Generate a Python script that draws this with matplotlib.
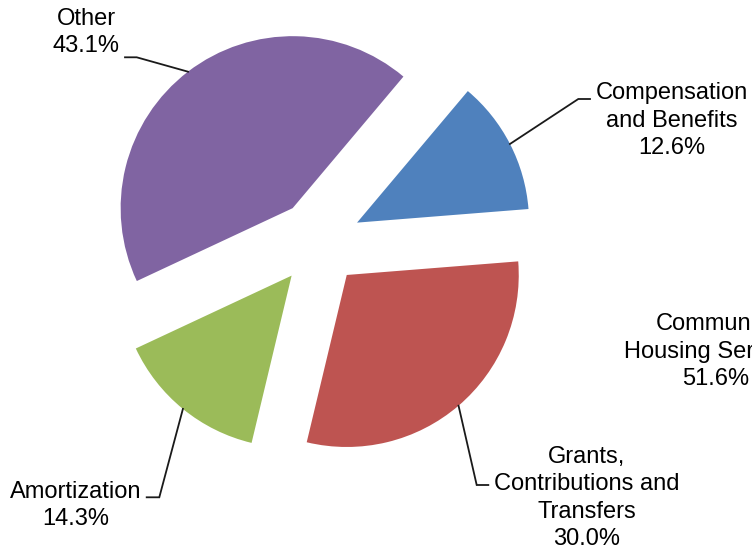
import numpy as np
import matplotlib
matplotlib.use('Agg')
import matplotlib.pyplot as plt

# Expense breakdown shown as an exploded pie
categories = ['Compensation\nand Benefits', 'Grants,\nContributions and\nTransfers', 'Amortization', 'Other']
shares = [12.6, 30.0, 14.3, 43.1]
colors = ['#4F81BD', '#BE5451', '#9BBB59', '#8064A2']

# label of the neighbouring chart that spills into this one
side_label = 'Community\nHousing Services'
side_share = 51.6

W, H = 752, 550
plt.rcParams['font.family'] = 'Liberation Sans'
fig = plt.figure(figsize=(W / 100, H / 100), dpi=100)
ax = fig.add_axes([0, 0, 1, 1])

center = (318.8, H - 242.3)
radius = 172
wedges, _ = ax.pie(shares, colors=colors, startangle=49.9, counterclock=False,
                   radius=radius, center=center, explode=[43] * len(shares),
                   wedgeprops=dict(linewidth=0))
ax.set_xlim(0, W)
ax.set_ylim(0, H)
ax.set_aspect('equal')
ax.axis('off')

# (elbow x, elbow y, end x, text x, last baseline y) in pixels from top-left
label_layout = [
    (578.3, 99.0, 590.0, 671.5, 154.0),
    (476.7, 485.0, 488.3, 586.5, 545.0),
    (159.3, 497.3, 146.7, 75.5, 525.0),
    (136.7, 57.3, 125.0, 86.0, 52.3),
]

fs = 17
for w, name, share, (ex, ey, endx, tx, ty) in zip(wedges, categories, shares, label_layout):
    mid = np.deg2rad((w.theta1 + w.theta2) / 2)
    sx = w.center[0] + w.r * np.cos(mid)
    sy = w.center[1] + w.r * np.sin(mid)
    ax.plot([sx, ex, endx], [sy, H - ey, H - ey], color='#1a1a1a', lw=1.3,
            solid_joinstyle='miter')
    ax.text(tx, H - ty, f'{name}\n{share:.1f}%', ha='center', va='baseline',
            multialignment='center', fontsize=fs, linespacing=1.32)

ax.text(715.6, H - 385.0, f'{side_label}\n{side_share:.1f}%', ha='center', va='baseline',
        multialignment='center', fontsize=fs, linespacing=1.32, clip_on=False)

fig.savefig('out.png', dpi=100)
